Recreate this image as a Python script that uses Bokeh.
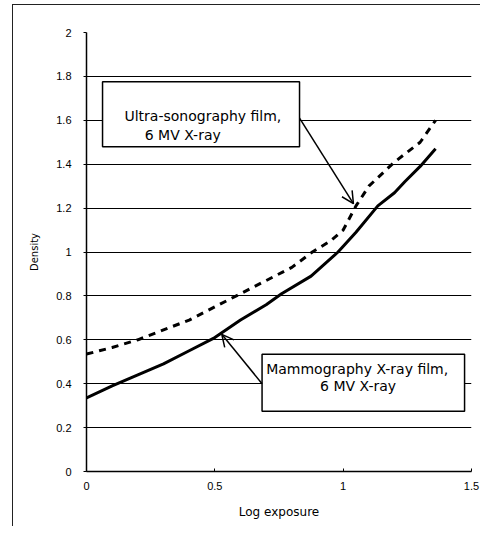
from bokeh.plotting import figure
from bokeh.models import Arrow, OpenHead, FixedTicker, Range1d
from bokeh.core.properties import value
from bokeh.embed import file_html
from bokeh.resources import INLINE

# Ultra-sonography film, 6 MV X-ray (dashed)
us_x = [0, 0.05, 0.1, 0.2, 0.3, 0.4, 0.5, 0.6, 0.7, 0.8, 0.88, 0.95, 1.0, 1.05, 1.1, 1.2, 1.3, 1.36]
us_y = [0.535, 0.55, 0.565, 0.6, 0.645, 0.69, 0.75, 0.81, 0.87, 0.93, 1.0, 1.05, 1.1, 1.21, 1.3, 1.41, 1.5, 1.6]

# Mammography X-ray film, 6 MV X-ray (solid)
mg_x = [0, 0.1, 0.2, 0.3, 0.4, 0.5, 0.6, 0.7, 0.76, 0.875, 0.98, 1.05, 1.135, 1.2, 1.24, 1.3, 1.36]
mg_y = [0.335, 0.39, 0.44, 0.49, 0.55, 0.61, 0.69, 0.76, 0.81, 0.89, 1.0, 1.09, 1.21, 1.27, 1.32, 1.39, 1.47]

x_ticks = [0, 0.5, 1, 1.5]
x_tick_labels = {0: "0", 0.5: "0.5", 1: "1", 1.5: "1.5"}
y_ticks = [0, 0.2, 0.4, 0.6, 0.8, 1.0, 1.2, 1.4, 1.6, 1.8, 2.0]
y_tick_labels = {0: "0", 0.2: "0.2", 0.4: "0.4", 0.6: "0.6", 0.8: "0.8", 1: "1",
                 1.2: "1.2", 1.4: "1.4", 1.6: "1.6", 1.8: "1.8", 2: "2"}

# callout boxes (left, right, top, bottom) and arrows (start -> end)
box_left = [0.0625, 0.684]
box_right = [0.83, 1.473]
box_top = [1.776, 0.534]
box_bottom = [1.48, 0.274]
arrow_start = [(0.83, 1.61), (0.684, 0.40)]
arrow_end = [(1.04, 1.22), (0.527, 0.625)]
label_x = [0.148, 0.227, 0.70, 0.91]
label_y = [1.62, 1.535, 0.468, 0.388]
label_text = ["Ultra-sonography film,", "6 MV X-ray", "Mammography X-ray film,", "6 MV X-ray"]

FONT = "Liberation Sans"
WIDE = "DejaVu Sans"

p = figure(width=468, height=522, output_backend="svg", toolbar_location=None,
           x_range=Range1d(0, 1.5), y_range=Range1d(0, 2.0),
           min_border_left=73, min_border_right=10, min_border_top=27, min_border_bottom=56)
p.margin = (4, 0, 0, 12)
p.styles = {"border-left": "1px solid #222", "border-top": "1px solid #222"}
p.outline_line_color = None
p.background_fill_color = "white"

p.xgrid.grid_line_color = None
p.ygrid.grid_line_color = "black"
p.ygrid.grid_line_width = 1.2
p.ygrid.ticker = FixedTicker(ticks=y_ticks)

p.xaxis.ticker = FixedTicker(ticks=x_ticks)
p.xaxis.major_label_overrides = x_tick_labels
p.yaxis.ticker = FixedTicker(ticks=y_ticks)
p.yaxis.major_label_overrides = y_tick_labels
for ax in (p.xaxis, p.yaxis):
    ax.axis_line_color = "black"
    ax.axis_line_width = 1.5
    ax.major_tick_line_color = "black"
    ax.minor_tick_line_color = None
    ax.major_label_text_font = FONT
    ax.major_label_text_font_size = "11px"
    ax.major_label_text_color = "black"
    ax.axis_label_text_font = WIDE
    ax.axis_label_text_font_style = "normal"
    ax.axis_label_text_color = "black"
p.xaxis.major_tick_in = 3
p.xaxis.major_tick_out = 0
p.yaxis.major_tick_in = 0
p.yaxis.major_tick_out = 3
p.xaxis.major_label_standoff = 10
p.yaxis.major_label_standoff = 12
p.xaxis.axis_label = "Log exposure"
p.xaxis.axis_label_text_font_size = "12px"
p.xaxis.axis_label_standoff = 12
p.yaxis.axis_label = "Density"
p.yaxis.axis_label_text_font_size = "10px"
p.yaxis.axis_label_standoff = 13

p.line(us_x, us_y, line_color="black", line_width=3, line_dash="7 6")
p.line(mg_x, mg_y, line_color="black", line_width=3)

p.quad(left=box_left, right=box_right, top=box_top, bottom=box_bottom,
       fill_color="white", line_color="black", line_width=1.5)

for (sx, sy), (ex, ey) in zip(arrow_start, arrow_end):
    p.add_layout(Arrow(end=OpenHead(size=12, line_width=1.5, line_color="black"),
                       x_start=sx, y_start=sy, x_end=ex, y_end=ey,
                       line_color="black", line_width=1.5))

p.text(x=label_x, y=label_y, text=label_text, text_font=value(WIDE),
       text_font_size="14px", text_baseline="middle", text_align="left", text_color="black")

open("out.html", "w").write(file_html(p, INLINE))
